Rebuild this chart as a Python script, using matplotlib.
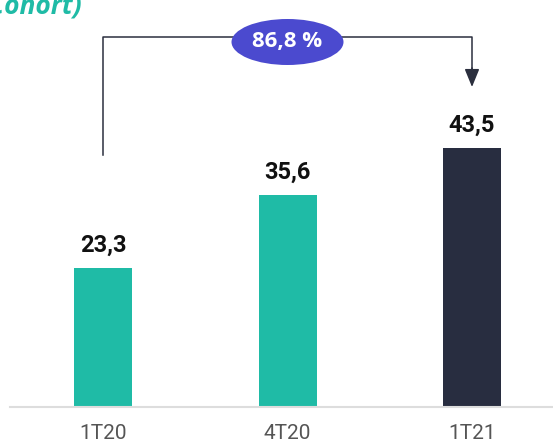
import matplotlib
matplotlib.use("Agg")
import matplotlib.pyplot as plt
from matplotlib.patches import Ellipse

plt.rcParams['font.family'] = ['Roboto', 'DejaVu Sans']

# data
periods = ["1T20", "4T20", "1T21"]
values = [23.3, 35.6, 43.5]
labels = ["23,3", "35,6", "43,5"]
growth_label = "86,8 %"
bar_colors = ["#1fbba6", "#1fbba6", "#282d40"]

W, H = 553, 446
fig = plt.figure(figsize=(W / 100, H / 100), dpi=100)
# axes: from x=10px to the right edge, bottom at y=407px, top at figure top
ax = fig.add_axes([10 / W, 1 - 407 / H, 1 - 10 / W, 407 / H])

x = list(range(len(periods)))
ax.bar(x, values, width=58 / 184.5, color=bar_colors, zorder=2)
ax.set_xlim(-93 / 184.5, 450 / 184.5)
ax.set_ylim(0, 407 / 5.95)

for xi, v, lab in zip(x, values, labels):
    ax.annotate(lab, (xi, v), xytext=(0, 12), textcoords="offset points",
                ha="center", va="baseline", fontsize=17, fontweight="bold",
                color="#111111")

for s in ["top", "right", "left"]:
    ax.spines[s].set_visible(False)
ax.spines["bottom"].set_color("#dddddd")
ax.spines["bottom"].set_linewidth(1.5)
ax.set_yticks([])
ax.set_xticks(x)
ax.set_xticklabels(periods, fontsize=15, color="#555555")
ax.tick_params(axis="x", length=0, pad=12)

# bracket showing growth from first to last quarter
top_y = (407 - 37) / 5.95
left_bottom = (407 - 155) / 5.95
arrow_tip = (407 - 87) / 5.95
lc = "#2b2f3e"
ax.plot([x[0], x[0], x[2], x[2]], [left_bottom, top_y, top_y, arrow_tip + 3],
        color=lc, lw=1.1, clip_on=False, zorder=3)
ax.annotate("", xy=(x[2], arrow_tip), xytext=(x[2], arrow_tip + 3.2),
            arrowprops=dict(arrowstyle="-|>,head_width=0.45,head_length=1.1",
                            color=lc, lw=1.1, shrinkA=0, shrinkB=0),
            annotation_clip=False)

ell = Ellipse((1, (407 - 42) / 5.95), 112 / 184.5, 46 / 5.95,
              facecolor="#4b4acf", edgecolor="none", clip_on=False, zorder=4)
ax.add_patch(ell)
ax.text(1, (407 - 41) / 5.95, growth_label, ha="center", va="center",
        fontsize=16, fontweight="bold", color="white", zorder=5,
        family=["Open Sans", "DejaVu Sans"])

# cropped title fragment at the top-left corner
fig.text(82 / W, 1 - 13 / H, "(Cohort)", ha="right", va="baseline",
         fontsize=19, fontweight="bold", style="italic", color="#1fbba6",
         family=["Open Sans", "DejaVu Sans"])

fig.savefig("out.png", dpi=100)
